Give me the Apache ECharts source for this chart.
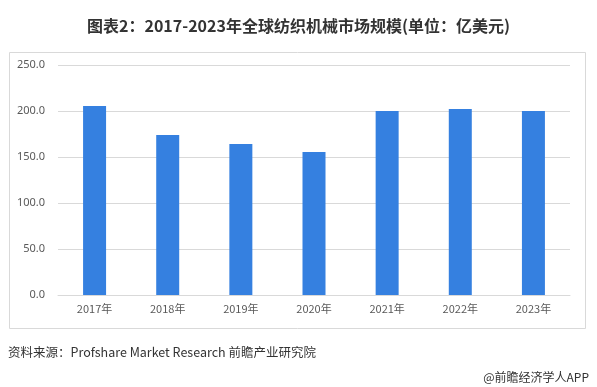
<!DOCTYPE html>
<html><head><meta charset="utf-8">
<script src="https://cdn.jsdelivr.net/npm/echarts@6/dist/echarts.min.js"></script>
<style>html,body{margin:0;padding:0;background:#fff}#c{width:597px;height:387px}</style>
</head><body><div id="c"></div>
<script>
const categories = ['2017年','2018年','2019年','2020年','2021年','2022年','2023年'];
const values = [205.5, 174.0, 164.0, 155.5, 200.0, 202.3, 200.0];
const yTicks = [0, 50, 100, 150, 200, 250];

const chart = echarts.init(document.getElementById('c'));
chart.setOption({
  backgroundColor: '#fff',
  animation: false,
  title: {
    text: '图表2：2017-2023年全球纺织机械市场规模(单位：亿美元)',
    left: 'center', top: 13,
    textStyle: { fontSize: 16, fontWeight: 'bold', color: '#333', fontFamily: 'Noto Sans CJK SC' }
  },
  graphic: [
    { type: 'rect', shape: { x: 9.5, y: 52.5, width: 576, height: 276 }, style: { fill: 'none', stroke: '#d9d9d9', lineWidth: 1 } },
    { type: 'text', left: 8, top: 346, style: { text: '资料来源：Profshare Market Research 前瞻产业研究院', fontSize: 12.5, fill: '#333', fontFamily: 'Noto Sans CJK SC' } },
    { type: 'text', right: 8, top: 371, style: { text: '@前瞻经济学人APP', fontSize: 12, fill: '#333', fontFamily: 'Noto Sans CJK SC' } }
  ],
  grid: { left: 58, right: 27, top: 65, bottom: 92, containLabel: false },
  xAxis: {
    type: 'category', data: categories,
    axisLine: { lineStyle: { color: '#d9d9d9' } },
    axisTick: { show: false },
    axisLabel: { color: '#595959', fontSize: 11, margin: 8, fontFamily: 'Noto Sans CJK SC' }
  },
  yAxis: {
    type: 'value', min: yTicks[0], max: yTicks[yTicks.length - 1], interval: 50,
    axisLine: { show: false }, axisTick: { show: false },
    splitLine: { lineStyle: { color: '#d9d9d9' } },
    axisLabel: { color: '#595959', fontSize: 11, margin: 13, formatter: v => v.toFixed(1), fontFamily: 'Noto Sans' }
  },
  series: [{
    type: 'bar', data: values, barWidth: 23,
    itemStyle: { color: '#3580e0' }
  }]
});
</script></body></html>
